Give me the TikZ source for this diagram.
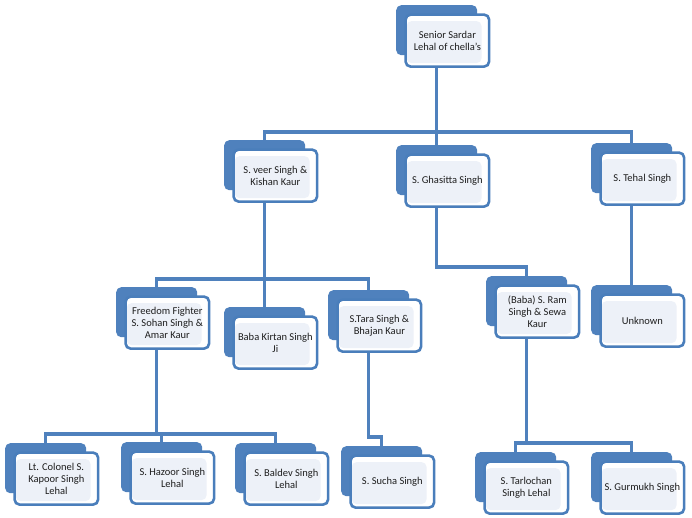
\documentclass[tikz,border=0pt]{standalone}
\usepackage{fontspec}
\setmainfont{Carlito}
\pgfdeclarelayer{canvas}
\pgfdeclarelayer{bg}
\pgfsetlayers{canvas,bg,main}
\definecolor{bblue}{HTML}{4F81BD}
\definecolor{fborder}{HTML}{4A7EBB}
\definecolor{innerfill}{HTML}{EDF1F8}
\definecolor{txt}{HTML}{1E1E1E}
\tikzset{
  backbox/.style={rectangle, rounded corners=5pt, fill=bblue, draw=none,
    minimum width=81pt, minimum height=50pt, inner sep=0pt},
  frontbox/.style={rectangle, rounded corners=5pt, fill=white, draw=fborder,
    line width=2.6pt, minimum width=83.5pt, minimum height=52pt, inner sep=0pt,
    align=center, text=txt, font=\fontsize{10.5}{12}\selectfont,
    path picture={\fill[innerfill]
      ([xshift=1pt,yshift=-6.5pt]path picture bounding box.north west) rectangle
      ([xshift=-7.5pt,yshift=3.5pt]path picture bounding box.south east);}},
  conn/.style={draw=bblue, line width=3.2pt, line cap=rect, line join=miter}
}
\newcommand\person[4]{%
  \node[backbox, anchor=north west] (#1-b) at (#2-7,#3-7) {};
  \node[frontbox, anchor=north west] (#1) at (#2+1.3,#3+1.3) {#4};
}
\begin{document}
\begin{tikzpicture}[x=1pt,y=-1pt]
\useasboundingbox (0,0) rectangle (692,518);
\begin{pgfonlayer}{canvas}
\fill[white] (0,0) rectangle (692,518);
\end{pgfonlayer}
\person{top}{403}{12}{Senior Sardar\\Lehal of chella's}
\person{veer}{231}{147}{S. veer Singh \&\\Kishan Kaur}
\person{ghasitta}{403}{152}{S. Ghasitta Singh}
\person{tehal}{598}{150}{S. Tehal Singh}
\person{freedom}{123}{294}{Freedom Fighter\\S. Sohan Singh \&\\Amar Kaur}
\person{baba}{231}{314}{Baba Kirtan Singh\\Ji}
\person{tara}{335}{297}{S.Tara Singh \&\\Bhajan Kaur}
\person{ram}{493}{283}{(Baba) S. Ram\\Singh \& Sewa\\Kaur}
\person{unknown}{598}{292}{Unknown}
\person{kapoor}{12}{450}{Lt. Colonel S.\\Kapoor Singh\\Lehal}
\person{hazoor}{128}{449}{S. Hazoor Singh\\Lehal}
\person{baldev}{242}{450}{S. Baldev Singh\\Lehal}
\person{sucha}{348}{453}{S. Sucha Singh}
\person{tarlochan}{482}{459}{S. Tarlochan\\Singh Lehal}
\person{gurmukh}{598}{459}{S. Gurmukh Singh}
\coordinate (bus1) at (0,132);
\coordinate (bus2) at (0,279);
\coordinate (bus3) at (0,267);
\coordinate (bus4) at (0,434);
\coordinate (bus5) at (0,437);
\coordinate (bus6) at (0,443);
\begin{pgfonlayer}{bg}
\foreach \c in {veer,ghasitta,tehal}
  \draw[conn] (top-b.center) -- (top-b.center |- bus1) -| (\c-b.center);
\foreach \c in {freedom,baba,tara}
  \draw[conn] (veer-b.center) -- (veer-b.center |- bus2) -| (\c-b.center);
\draw[conn] (ghasitta-b.center) -- (ghasitta-b.center |- bus3) -| (ram-b.center);
\draw[conn] (tehal-b.center) -- (tehal-b.center |- unknown-b.center);
\foreach \c in {kapoor,hazoor,baldev}
  \draw[conn] (freedom-b.center) -- (freedom-b.center |- bus4) -| (\c-b.center);
\draw[conn] (tara-b.center) -- (tara-b.center |- bus5) -| (sucha-b.center);
\foreach \c in {tarlochan,gurmukh}
  \draw[conn] (ram-b.center) -- (ram-b.center |- bus6) -| (\c-b.center);
\end{pgfonlayer}
\end{tikzpicture}
\end{document}
